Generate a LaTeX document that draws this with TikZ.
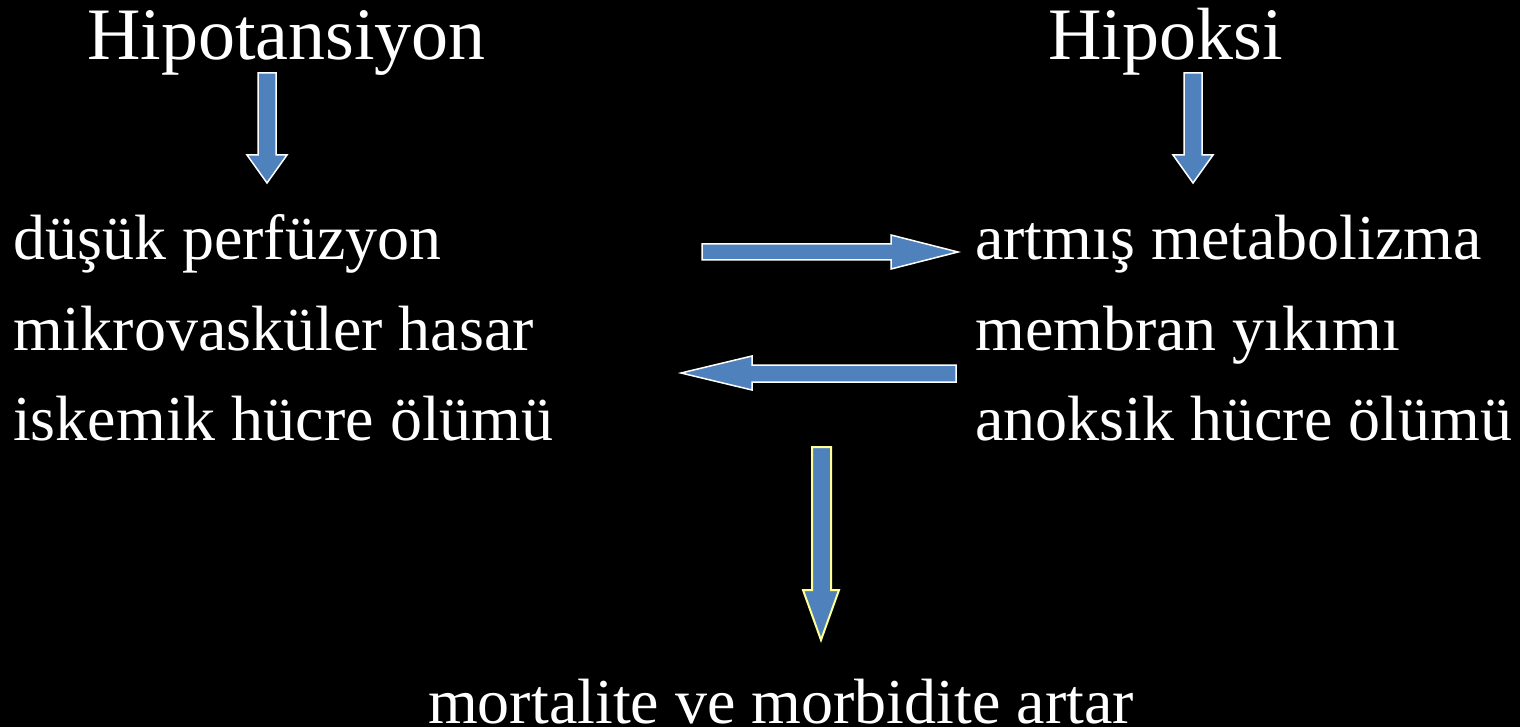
\documentclass[tikz,border=0pt]{standalone}
\usepackage{fontspec}
\setmainfont{Liberation Serif}
\definecolor{arrowblue}{RGB}{79,129,189}
\definecolor{paleyellow}{RGB}{255,255,150}
\begin{document}
\begin{tikzpicture}[x=1pt,y=-1pt,
  title/.style={anchor=base west,inner sep=0pt,text=white,font=\fontsize{74}{80}\selectfont},
  item/.style={anchor=base west,inner sep=0pt,text=white,font=\fontsize{64}{70}\selectfont},
  blockarrow/.style={fill=arrowblue,draw=white,line width=1.5pt,line join=miter},
  yblockarrow/.style={blockarrow,draw=paleyellow,line width=2pt}]
\fill[black] (0,0) rectangle (1520,727);
\useasboundingbox (0,0) rectangle (1520,727);
% titles
\node[title] (hipo) at (87,60) {Hipotansiyon};
\node[title] (hipok) at (1048,60) {Hipoksi};
% left items
\node[item] (l1) at (13,260) {düşük perfüzyon};
\node[item] (l2) at (13,350) {mikrovasküler hasar};
\node[item] (l3) at (13,440) {iskemik hücre ölümü};
% right items
\node[item] (r1) at (975,260) {artmış metabolizma};
\node[item] (r2) at (975,350) {membran yıkımı};
\node[item] (r3) at (975,440) {anoksik hücre ölümü};
% bottom
\node[item] (res) at (428,723) {mortalite ve morbidite artar};
% block arrows
\draw[blockarrow] (258,73) -- (276,73) -- (276,155) -- (287,155) -- (267,183) -- (247,155) -- (258,155) -- cycle;
\draw[blockarrow] (1184,73) -- (1202,73) -- (1202,155) -- (1213,155) -- (1193,183) -- (1173,155) -- (1184,155) -- cycle;
\draw[blockarrow] (702,244) -- (891,244) -- (891,235) -- (958,252) -- (891,269) -- (891,260) -- (702,260) -- cycle;
\draw[blockarrow] (956,365) -- (752,365) -- (752,356) -- (681,373) -- (752,390) -- (752,382) -- (956,382) -- cycle;
\draw[yblockarrow] (812,447) -- (831,447) -- (831,590) -- (839,590) -- (821,640) -- (803,590) -- (812,590) -- cycle;
\end{tikzpicture}
\end{document}
